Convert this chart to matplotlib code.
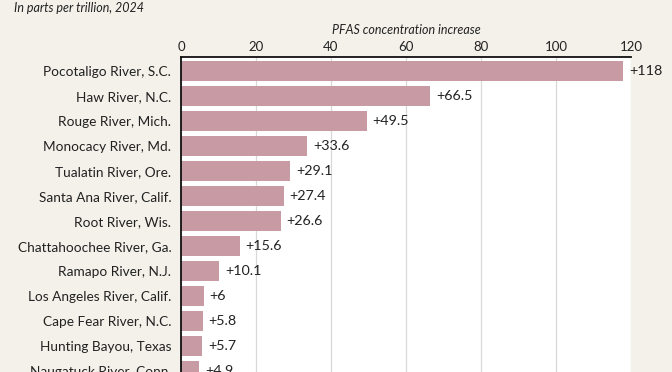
import matplotlib.pyplot as plt

# PFAS concentration increase by river, parts per trillion (2024)
rivers = [
    "Pocotaligo River, S.C.", "Haw River, N.C.", "Rouge River, Mich.",
    "Monocacy River, Md.", "Tualatin River, Ore.", "Santa Ana River, Calif.",
    "Root River, Wis.", "Chattahoochee River, Ga.", "Ramapo River, N.J.",
    "Los Angeles River, Calif.", "Cape Fear River, N.C.", "Hunting Bayou, Texas",
    "Naugatuck River, Conn.",
]
increase = [118, 66.5, 49.5, 33.6, 29.1, 27.4, 26.6, 15.6, 10.1, 6, 5.8, 5.7, 4.9]
x_ticks = [0, 20, 40, 60, 80, 100, 120]

bg = "#f3f1ea"
bar_color = "#c89ba4"
txt = "#222222"
plt.rcParams['font.family'] = ['Lato', 'DejaVu Sans']

fig = plt.figure(figsize=(6.72, 3.72), dpi=100, facecolor=bg)
ax = fig.add_axes([181 / 672, 0, 450 / 672, 315 / 372])
ax.set_facecolor("white")

ypos = list(range(len(rivers)))
ax.barh(ypos, increase, height=0.8, color=bar_color, zorder=2)
for y, v in zip(ypos, increase):
    ax.text(v + 1.6, y, f"+{v:g}", va="center", ha="left", fontsize=10.3,
            color=txt, clip_on=False)

ax.set_xlim(0, 120)
ax.set_ylim(12.04, -0.56)
ax.set_yticks(ypos)
ax.set_yticklabels(rivers, fontsize=9.8, color=txt)
ax.tick_params(axis="y", length=0, pad=7)

ax.xaxis.tick_top()
ax.xaxis.set_label_position("top")
ax.set_xticks(x_ticks)
ax.tick_params(axis="x", length=0, pad=3, labelsize=9.5, labelcolor=txt)
ax.set_xlabel("PFAS concentration increase", fontsize=9, style="italic",
              color=txt, labelpad=5)
ax.grid(axis="x", color="#d8d8d8", linewidth=0.9, zorder=0)

for side in ["right", "bottom"]:
    ax.spines[side].set_visible(False)
ax.spines["top"].set_color("#111111")
ax.spines["top"].set_linewidth(1.3)
ax.spines["left"].set_color("#111111")
ax.spines["left"].set_linewidth(1.3)

fig.text(14 / 672, 1 - 8 / 372, "In parts per trillion, 2024", fontsize=9,
         style="italic", color=txt, va="center", ha="left")

fig.savefig("out.png", dpi=100, facecolor=bg)
